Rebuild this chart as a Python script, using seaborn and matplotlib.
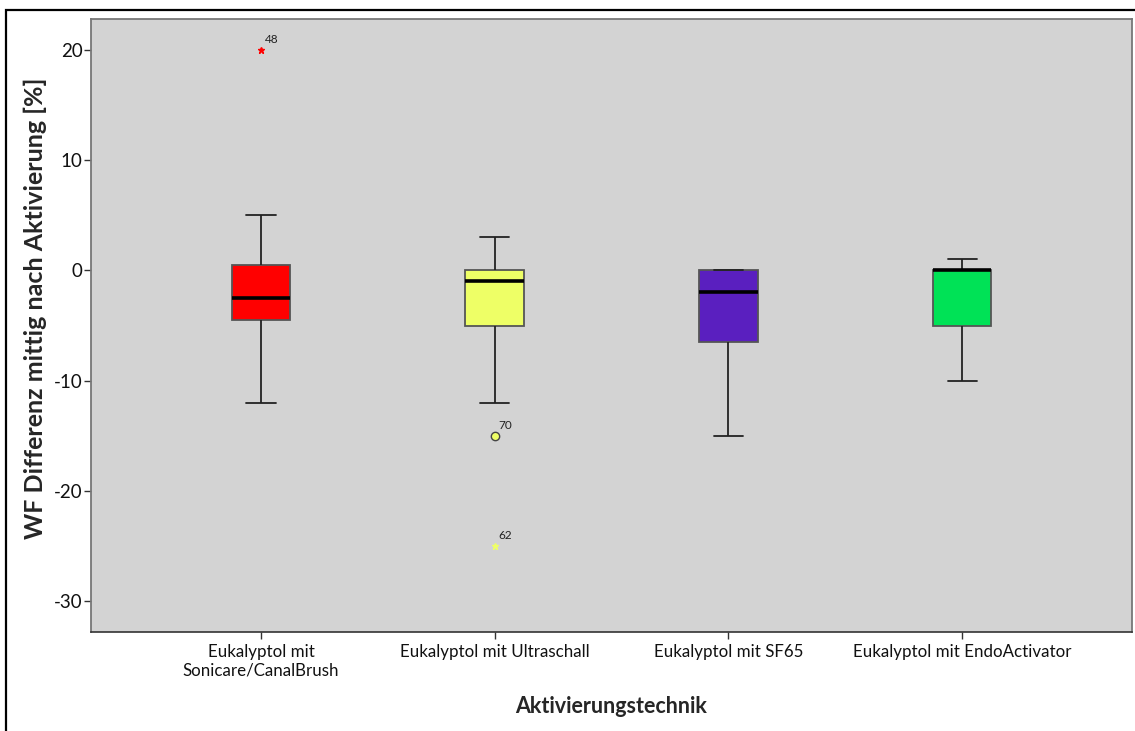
import pandas as pd
import matplotlib
matplotlib.use("Agg")
import matplotlib.pyplot as plt
from matplotlib.patches import Rectangle
import seaborn as sns

# box summary
techniques = ["Eukalyptol mit\nSonicare/CanalBrush", "Eukalyptol mit Ultraschall",
              "Eukalyptol mit SF65", "Eukalyptol mit EndoActivator"]
whisker_low = [-12, -12, -15, -10]
q1 = [-4.5, -5, -6.5, -5]
median = [-2.5, -1, -2, 0]
q3 = [0.5, 0, 0, 0]
whisker_high = [5, 3, 0, 1]
box_colors = ["#ff0000", "#eeff66", "#5a1fbf", "#00e256"]

# outliers (case numbers as labelled)
outlier_group = [0, 1, 1]
outlier_value = [20, -15, -25]
outlier_case = ["48", "70", "62"]
outlier_extreme = [True, False, True]

# table for seaborn: 8 values per group give exactly these quartiles
rows = []
for i, t in enumerate(techniques):
    for v in [whisker_low[i], q1[i], q1[i], median[i], median[i], q3[i], q3[i], whisker_high[i]]:
        rows.append({"technique": t, "value": v})
df = pd.DataFrame(rows)

sns.set_theme(style="ticks")
plt.rcParams["font.family"] = ["Lato", "DejaVu Sans"]
plt.rcParams["axes.unicode_minus"] = False

fig = plt.figure(figsize=(11.35, 7.31), dpi=100)
ax = fig.add_axes([0.0802, 0.1354, 0.9172, 0.8386])
ax.set_facecolor("#d3d3d3")

sns.boxplot(data=df, x="technique", y="value", hue="technique", order=techniques,
            palette=box_colors, saturation=1, width=0.25, whis=(0, 100), showfliers=False,
            linecolor="#222222", linewidth=1.3, legend=False,
            boxprops=dict(edgecolor="#555555"),
            medianprops=dict(color="black", linewidth=2.6), ax=ax)

for g, v, case, ext in zip(outlier_group, outlier_value, outlier_case, outlier_extreme):
    col = box_colors[g]
    if ext:
        ax.plot(g, v, marker="*", ms=5, color=col, mec=col, ls="none", zorder=5)
    else:
        ax.plot(g, v, marker="o", ms=6, mfc=col, mec="#444444", mew=1, ls="none", zorder=5)
    ax.annotate(case, (g, v), xytext=(3, 5), textcoords="offset points",
                fontsize=8.5, color="#222222")

ax.set_xlim(-0.727, 3.727)
ax.set_ylim(-32.8, 22.8)
ax.set_yticks([-30, -20, -10, 0, 10, 20])
ax.tick_params(axis="both", length=5, width=1, color="#333333", colors="#111111")
ax.tick_params(axis="x", labelsize=12.2)
ax.tick_params(axis="y", labelsize=13.5, pad=1)

for side in ["left", "top", "right"]:
    ax.spines[side].set_visible(True)
    ax.spines[side].set_color("#777777")
    ax.spines[side].set_linewidth(1.3)
ax.spines["bottom"].set_color("#333333")
ax.spines["bottom"].set_linewidth(1.2)

ax.set_xlabel("Aktivierungstechnik", fontsize=15.5, fontweight="bold", labelpad=13)
ax.set_ylabel("WF Differenz mittig nach Aktivierung [%]", fontsize=18, fontweight="bold", labelpad=5)
ax.yaxis.label.set_y(0.528)

# frame round the figure like the exported SPSS chart
fig.patches.append(Rectangle((6 / 1135, -0.5), 2.0, 0.5 + (731 - 10) / 731,
                             transform=fig.transFigure, fill=False,
                             edgecolor="black", linewidth=1.6))

fig.savefig("out.png", dpi=100)
